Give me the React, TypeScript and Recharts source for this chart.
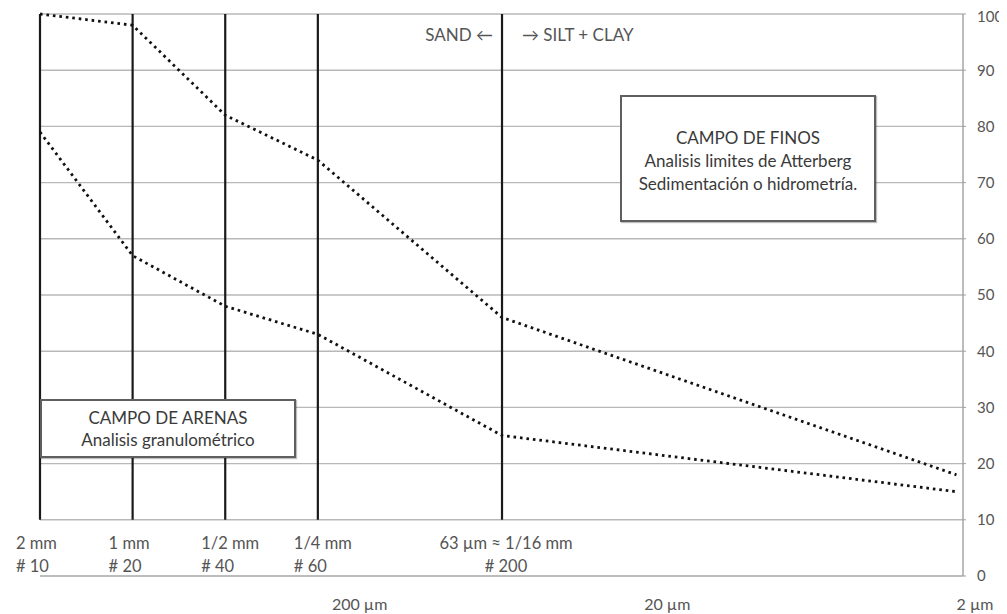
import React from "react";
import { LineChart, Line, XAxis, YAxis, CartesianGrid, ReferenceLine } from "recharts";

// sieve openings in µm, with their labels
const sieveSizes = [2000, 1000, 500, 250, 63];
const sieveSizeLabels = ["2 mm", "1 mm", "1/2 mm", "1/4 mm", "63 µm ≈ 1/16 mm"];
const sieveNumbers = ["# 10", "# 20", "# 40", "# 60", "# 200"];
const sieveSpan = [10, 100];

// grading curves (% passing) against grain size in µm
const grainSizes = [2000, 1000, 500, 250, 63, 2.1];
const upperPassing = [100, 98, 82, 74, 46, 18];
const lowerPassing = [79, 57, 48, 43, 25, 15];

const decadeTicks = [200, 20, 2];
const percentTicks = [0, 10, 20, 30, 40, 50, 60, 70, 80, 90, 100];

const data = grainSizes.map((size, i) => ({
  size,
  upper: upperPassing[i],
  lower: lowerPassing[i],
}));

const labelColor = "#555";
const boxText = "#3a3a3a";

function SieveLabel(props: any) {
  const { viewBox, line1, line2, centered } = props;
  if (!viewBox) return null;
  const x = centered ? viewBox.x + 4 : viewBox.x - 24;
  const bottom = viewBox.y + viewBox.height;
  const anchor = centered ? "middle" : "start";
  return (
    <g fill={labelColor} fontSize={16.5}>
      <text x={x} y={bottom + 23} textAnchor={anchor} dominantBaseline="central">
        {line1}
      </text>
      <text x={x} y={bottom + 46} textAnchor={anchor} dominantBaseline="central">
        {line2}
      </text>
    </g>
  );
}

function DecadeTick(props: any) {
  const { x, y, payload } = props;
  return (
    <text x={x + 12} y={y + 27} textAnchor="middle" dominantBaseline="central" fill={labelColor} fontSize={16}>
      {`${payload.value} µm`}
    </text>
  );
}

const boxStyle: React.CSSProperties = {
  position: "absolute",
  background: "#fff",
  border: "2px solid #5f5f5f",
  boxShadow: "1px 1px 1px rgba(0,0,0,0.25)",
  boxSizing: "border-box",
  textAlign: "center",
  color: boxText,
  fontSize: 17,
  lineHeight: "23px",
  whiteSpace: "nowrap",
};

export default function App() {
  return (
    <div style={{ position: "relative", width: 999, height: 606, fontFamily: "Lato, 'Noto Sans', sans-serif" }}>
      <LineChart width={999} height={606} data={data} margin={{ top: 6, right: 4, bottom: 8, left: 32 }}>
        <CartesianGrid vertical={false} stroke="#b8b8b8" strokeWidth={1.4} />
        <XAxis
          dataKey="size"
          type="number"
          scale="log"
          domain={[2, 2000]}
          reversed
          ticks={decadeTicks}
          height={30}
          tickSize={0}
          tickMargin={0}
          axisLine={{ stroke: "#b8b8b8", strokeWidth: 1.4 }}
          tickLine={false}
          tick={<DecadeTick />}
        />
        <YAxis
          orientation="right"
          domain={[0, 100]}
          ticks={percentTicks}
          width={40}
          tickSize={3}
          tickMargin={11}
          axisLine={{ stroke: "#a0a0a0", strokeWidth: 1.4 }}
          tickLine={{ stroke: "#a0a0a0" }}
          tick={{ fill: labelColor, fontSize: 15 }}
        />
        {sieveSizes.map((s, i) => (
          <ReferenceLine
            key={s}
            segment={[
              { x: s, y: sieveSpan[0] },
              { x: s, y: sieveSpan[1] },
            ]}
            stroke="#1a1a1a"
            strokeWidth={2.2}
            ifOverflow="visible"
            label={
              <SieveLabel
                line1={sieveSizeLabels[i]}
                line2={sieveNumbers[i]}
                centered={i === sieveSizes.length - 1}
              />
            }
          />
        ))}
        <Line
          type="linear"
          dataKey="upper"
          stroke="#111"
          strokeWidth={2.8}
          strokeDasharray="2.6 3.9"
          dot={false}
          isAnimationActive={false}
        />
        <Line
          type="linear"
          dataKey="lower"
          stroke="#111"
          strokeWidth={2.8}
          strokeDasharray="2.6 3.9"
          dot={false}
          isAnimationActive={false}
        />
      </LineChart>

      <div
        style={{
          position: "absolute",
          left: 365,
          top: 16,
          width: 120,
          textAlign: "right",
          color: labelColor,
          fontSize: 17,
          lineHeight: "22px",
          whiteSpace: "nowrap",
        }}
      >
        SAND ←
      </div>
      <div
        style={{
          position: "absolute",
          left: 514,
          top: 16,
          color: labelColor,
          fontSize: 17,
          lineHeight: "22px",
          whiteSpace: "nowrap",
        }}
      >
        → SILT + CLAY
      </div>

      <div style={{ ...boxStyle, left: 612, top: 87, width: 256, height: 127, paddingTop: 29 }}>
        <div>CAMPO DE FINOS</div>
        <div>Analisis limites de Atterberg</div>
        <div>Sedimentación o hidrometría.</div>
      </div>

      <div style={{ ...boxStyle, left: 32, top: 391, width: 256, height: 59, paddingTop: 6, lineHeight: "22px" }}>
        <div>CAMPO DE ARENAS</div>
        <div>Analisis granulométrico</div>
      </div>
    </div>
  );
}
